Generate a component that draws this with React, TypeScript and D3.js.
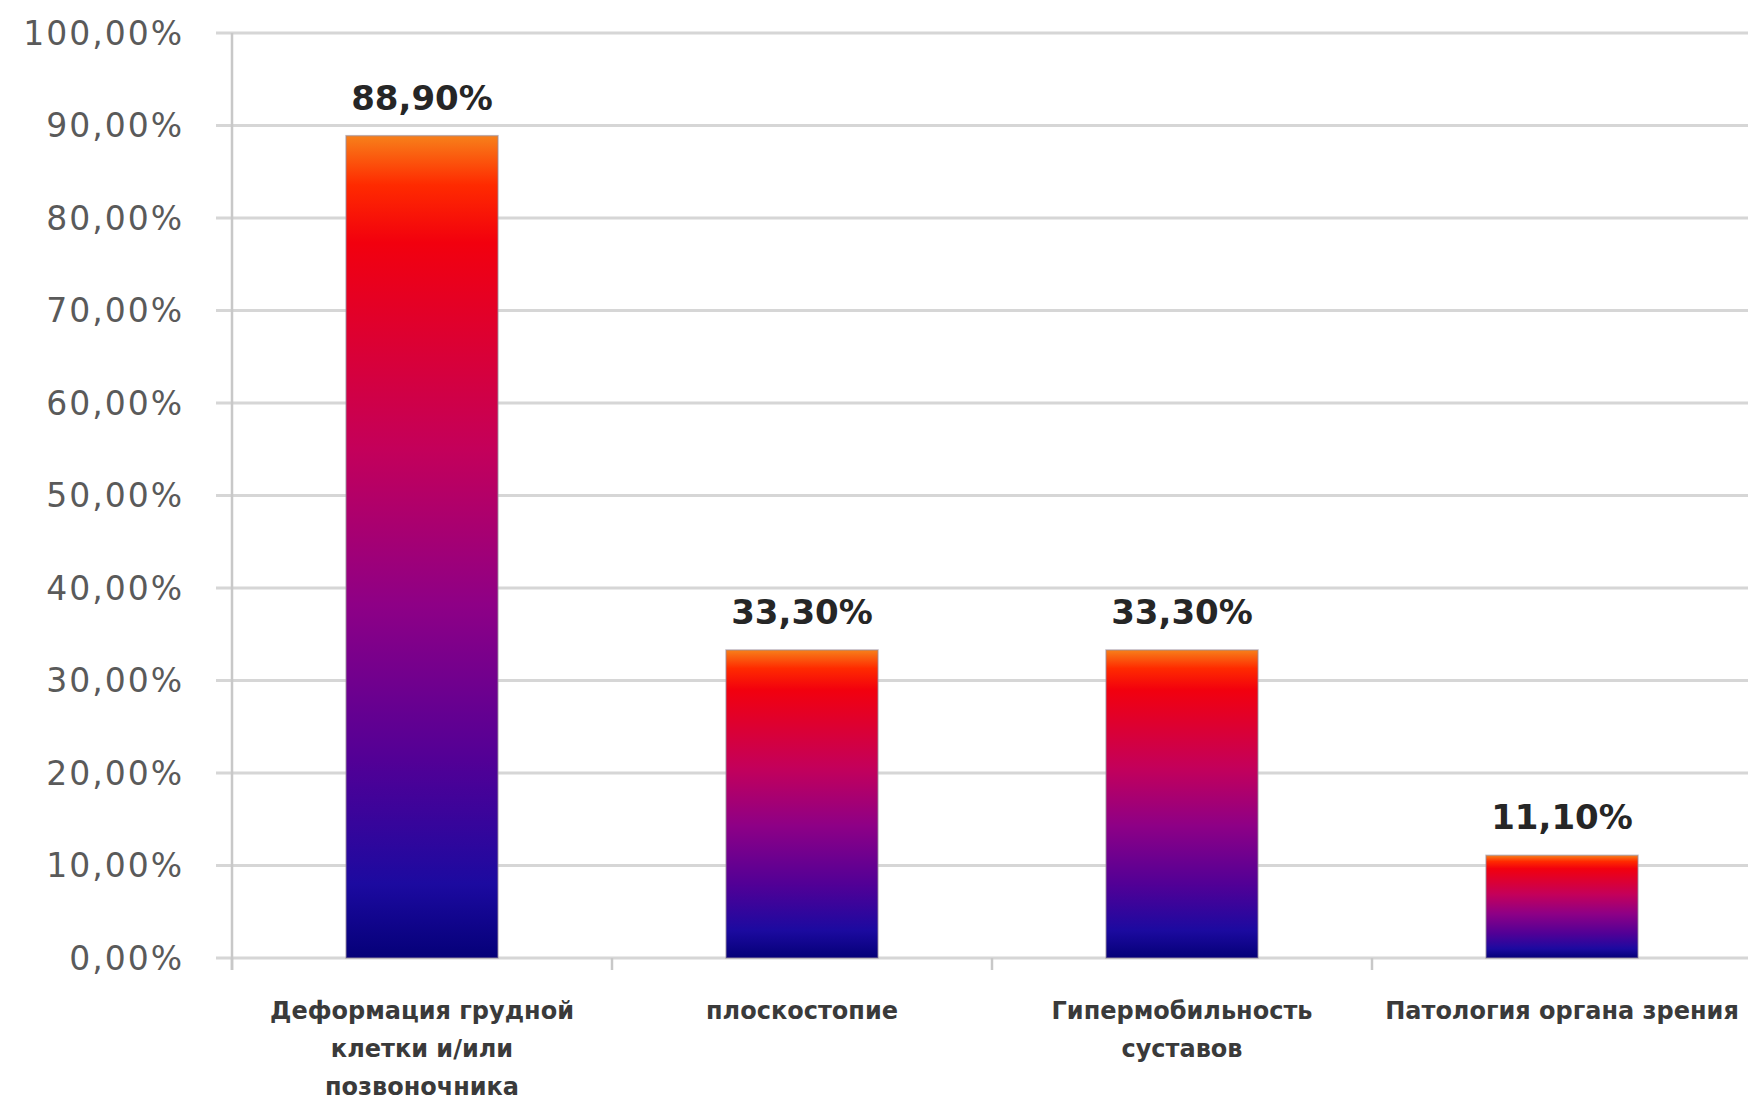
import React from "react";
import * as d3 from "d3";

const categories: string[][] = [
  ["Деформация грудной", "клетки и/или", "позвоночника"],
  ["плоскостопие"],
  ["Гипермобильность", "суставов"],
  ["Патология органа зрения"],
];
const values: number[] = [88.9, 33.3, 33.3, 11.1];
const valueLabels: string[] = ["88,90%", "33,30%", "33,30%", "11,10%"];
const yTicks: number[] = [0, 10, 20, 30, 40, 50, 60, 70, 80, 90, 100];
const yTickLabels: string[] = yTicks.map((t) => `${t},00%`);

const W = 1748;
const H = 1100;
const left = 232;
const right = 1752;
const top = 33;
const bottom = 958;

export default function App() {
  const keys = categories.map((c, i) => String(i));
  const x = d3.scaleBand<string>().domain(keys).range([left, right]).paddingInner(0.6).paddingOuter(0.3);
  const y = d3.scaleLinear().domain([0, 100]).range([bottom, top]);
  const step = x.step();
  const boundaries = d3.range(keys.length + 1).map((i) => left + i * step);

  return (
    <svg
      width={W}
      height={H}
      style={{ position: "absolute", left: 0, top: 0, background: "#fff" }}
      xmlns="http://www.w3.org/2000/svg"
    >
      <defs>
        <linearGradient id="barGrad" x1="0" y1="0" x2="0" y2="1">
          <stop offset="0%" stopColor="#f7801a" />
          <stop offset="6%" stopColor="#ff2a00" />
          <stop offset="13%" stopColor="#f2000e" />
          <stop offset="38%" stopColor="#c4005a" />
          <stop offset="57%" stopColor="#8e0086" />
          <stop offset="76%" stopColor="#520096" />
          <stop offset="91%" stopColor="#1c0aa0" />
          <stop offset="100%" stopColor="#050078" />
        </linearGradient>
      </defs>
      {yTicks.map((t) => (
        <line key={t} x1={left - 16} x2={W} y1={y(t)} y2={y(t)} stroke="#d6d6d6" strokeWidth={3} />
      ))}
      <line x1={left} x2={left} y1={top} y2={bottom + 12} stroke="#c8c8c8" strokeWidth={2.5} />
      {boundaries.map((b, i) => (
        <line key={i} x1={b} x2={b} y1={bottom} y2={bottom + 12} stroke="#c8c8c8" strokeWidth={2.5} />
      ))}
      {yTicks.map((t, i) => (
        <text
          key={t}
          x={184}
          y={y(t)}
          textAnchor="end"
          dominantBaseline="central"
          fontFamily="DejaVu Sans"
          fontSize={33}
          letterSpacing={2}
          fill="#5a5a5a"
        >
          {yTickLabels[i]}
        </text>
      ))}
      {values.map((v, i) => (
        <rect
          key={i}
          x={x(String(i))}
          y={y(v)}
          width={x.bandwidth()}
          height={y(0) - y(v)}
          fill="url(#barGrad)"
          stroke="#9a8e9e"
          strokeOpacity={0.6}
          strokeWidth={1.5}
        />
      ))}
      {values.map((v, i) => (
        <text
          key={i}
          x={(x(String(i)) as number) + x.bandwidth() / 2}
          y={y(v) - 26}
          textAnchor="middle"
          fontFamily="DejaVu Sans"
          fontWeight="bold"
          fontSize={34}
          fill="#262626"
        >
          {valueLabels[i]}
        </text>
      ))}
      {categories.map((lines, i) => (
        <text
          key={i}
          textAnchor="middle"
          fontFamily="DejaVu Sans"
          fontWeight="bold"
          fontSize={24}
          fill="#3a3a3a"
        >
          {lines.map((l, j) => (
            <tspan
              key={j}
              x={(x(String(i)) as number) + x.bandwidth() / 2}
              y={1011 + j * 38}
              dominantBaseline="central"
            >
              {l}
            </tspan>
          ))}
        </text>
      ))}
    </svg>
  );
}
